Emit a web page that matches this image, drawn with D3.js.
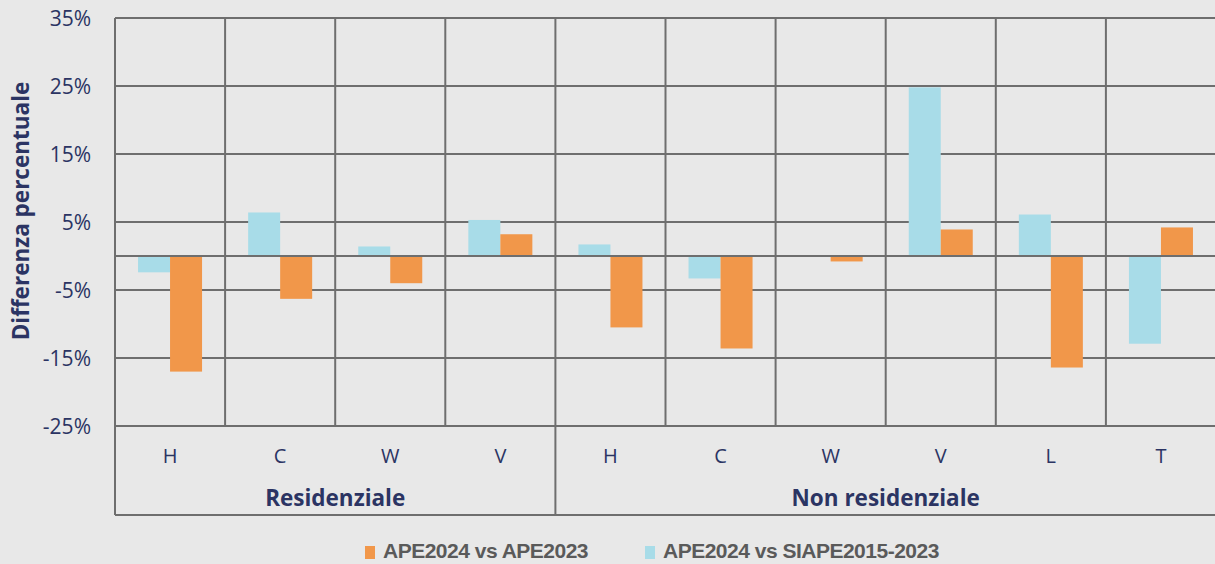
<!DOCTYPE html>
<html>
<head>
<meta charset="utf-8">
<script src="https://cdn.jsdelivr.net/npm/d3@7"></script>
<style>
  html, body { margin: 0; padding: 0; background: #e8e8e8; }
  svg { display: block; }
</style>
</head>
<body>
<svg id="chart"></svg>
<script>
const groups = ["Residenziale", "Non residenziale"];
const categories = ["H", "C", "W", "V", "H", "C", "W", "V", "L", "T"];
const categoryGroup = [0, 0, 0, 0, 1, 1, 1, 1, 1, 1];
const seriesNames = ["APE2024 vs SIAPE2015-2023", "APE2024 vs APE2023"];
const vsSiape = [-2.4, 6.4, 1.4, 5.3, 1.7, -3.3, 0, 24.8, 6.1, -12.9];
const vsApe2023 = [-17.0, -6.3, -4.0, 3.2, -10.5, -13.6, -0.8, 3.9, -16.4, 4.2];
const yTicks = [35, 25, 15, 5, -5, -15, -25];

const W = 1215, H = 564;
const m = { left: 115, right: 1216, top: 18, bottom: 426 };
const colors = { cyan: "#a8dce8", orange: "#f1974a", grid: "#6e6e6e", text: "#2b3463" };

const svg = d3.select("#chart").attr("width", W).attr("height", H);
svg.append("rect").attr("width", W).attr("height", H).attr("fill", "#e8e8e8");

const x = d3.scaleBand().domain(d3.range(categories.length)).range([m.left, m.right]);
const y = d3.scaleLinear().domain([-25, 35]).range([m.bottom, m.top]);
const inner = d3.scaleBand().domain([0, 1]).range([0, x.bandwidth()]).paddingInner(0).paddingOuter(0.72);

// horizontal grid
svg.append("g")
  .selectAll("line")
  .data(yTicks)
  .join("line")
  .attr("x1", m.left).attr("x2", m.right)
  .attr("y1", d => y(d)).attr("y2", d => y(d))
  .attr("stroke", colors.grid).attr("stroke-width", 2);

// vertical grid within plot
svg.append("g")
  .selectAll("line")
  .data(d3.range(categories.length + 1))
  .join("line")
  .attr("x1", i => i < categories.length ? x(i) : m.right)
  .attr("x2", i => i < categories.length ? x(i) : m.right)
  .attr("y1", m.top).attr("y2", m.bottom)
  .attr("stroke", colors.grid).attr("stroke-width", 2);

// bars
const data = categories.map((c, i) => ({ i, vals: [vsSiape[i], vsApe2023[i]] }));
const barColors = [colors.cyan, colors.orange];
svg.append("g")
  .selectAll("g")
  .data(data)
  .join("g")
  .attr("transform", d => `translate(${x(d.i)},0)`)
  .selectAll("rect")
  .data(d => d.vals.map((v, k) => ({ v, k })))
  .join("rect")
  .attr("x", d => inner(d.k))
  .attr("width", inner.bandwidth())
  .attr("y", d => y(Math.max(0, d.v)))
  .attr("height", d => Math.abs(y(d.v) - y(0)))
  .attr("fill", d => barColors[d.k]);

// zero line on top
svg.append("line")
  .attr("x1", m.left).attr("x2", m.right)
  .attr("y1", y(0)).attr("y2", y(0))
  .attr("stroke", colors.grid).attr("stroke-width", 2);

// y axis labels
svg.append("g")
  .selectAll("text")
  .data(yTicks)
  .join("text")
  .attr("x", 91).attr("y", d => y(d))
  .attr("dy", "0.36em")
  .attr("text-anchor", "end")
  .attr("font-family", "Open Sans")
  .attr("font-size", 21)
  .attr("fill", colors.text)
  .text(d => d + "%");

svg.append("text")
  .attr("transform", "translate(29,211) rotate(-90)")
  .attr("text-anchor", "middle")
  .attr("font-family", "Open Sans")
  .attr("font-weight", "bold")
  .attr("font-size", 22.5)
  .attr("fill", colors.text)
  .text("Differenza percentuale");

// category axis area
const axisBottom = 515;
svg.append("line")
  .attr("x1", m.left).attr("x2", m.right)
  .attr("y1", axisBottom).attr("y2", axisBottom)
  .attr("stroke", colors.grid).attr("stroke-width", 2);
const groupEdges = [0, 4, categories.length];
svg.append("g")
  .selectAll("line")
  .data(groupEdges)
  .join("line")
  .attr("x1", i => i < categories.length ? x(i) : m.right)
  .attr("x2", i => i < categories.length ? x(i) : m.right)
  .attr("y1", m.bottom).attr("y2", axisBottom)
  .attr("stroke", colors.grid).attr("stroke-width", 2);

svg.append("g")
  .selectAll("text")
  .data(categories)
  .join("text")
  .attr("x", (d, i) => x(i) + x.bandwidth() / 2)
  .attr("y", 463)
  .attr("text-anchor", "middle")
  .attr("font-family", "Open Sans")
  .attr("font-size", 20)
  .attr("fill", colors.text)
  .text(d => d);

svg.append("g")
  .selectAll("text")
  .data(groups)
  .join("text")
  .attr("x", (d, g) => {
    const idx = d3.range(categories.length).filter(i => categoryGroup[i] === g);
    return (x(idx[0]) + x(idx[idx.length - 1]) + x.bandwidth()) / 2;
  })
  .attr("y", 506)
  .attr("text-anchor", "middle")
  .attr("font-family", "Open Sans")
  .attr("font-weight", "bold")
  .attr("font-size", 22.5)
  .attr("fill", colors.text)
  .text(d => d);

// legend
const legendItems = [
  { name: seriesNames[1], color: colors.orange, x: 365 },
  { name: seriesNames[0], color: colors.cyan, x: 645 }
];
const lg = svg.append("g")
  .selectAll("g")
  .data(legendItems)
  .join("g")
  .attr("transform", d => `translate(${d.x},0)`);
lg.append("rect")
  .attr("x", 0).attr("y", 546).attr("width", 10).attr("height", 13)
  .attr("fill", d => d.color);
lg.append("text")
  .attr("x", 18).attr("y", 558)
  .attr("font-family", "Liberation Sans")
  .attr("font-weight", "bold")
  .attr("font-size", 21)
  .attr("letter-spacing", -0.5)
  .attr("fill", "#5a5a5a")
  .text(d => d.name);
</script>
</body>
</html>
